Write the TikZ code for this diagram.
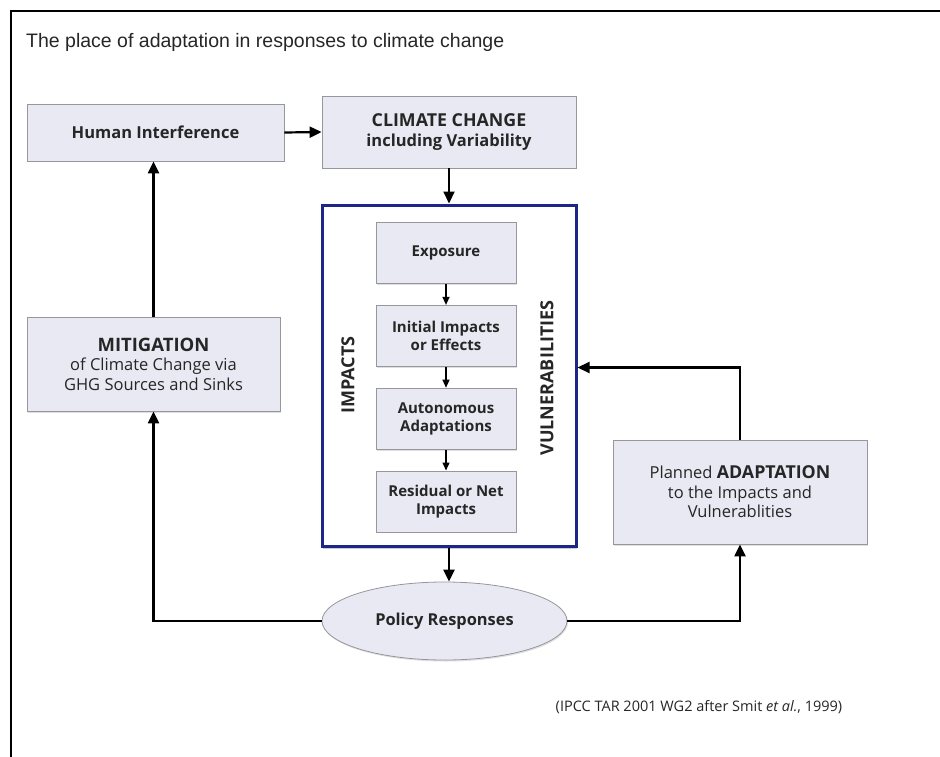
\documentclass[tikz,border=0pt]{standalone}
\usepackage{fontspec}
\setmainfont{Open Sans}
\newfontfamily\titlefont{Liberation Sans}
\usetikzlibrary{arrows.meta,shapes.geometric,shadows,positioning}
\definecolor{boxfill}{RGB}{232,233,242}
\definecolor{boxline}{RGB}{150,150,156}
\definecolor{vulnblue}{RGB}{28,38,135}
\definecolor{txt}{RGB}{38,38,38}

\begin{document}
\begin{tikzpicture}[x=1pt,y=-1pt,>={Triangle[length=12pt,width=11pt]},
                    node distance=21pt,font=\fontsize{16.5}{19.5}\selectfont]
  \tikzstyle{box}=[draw=boxline,line width=0.8pt,fill=boxfill,text=txt,align=center,inner sep=0pt,
                   drop shadow={shadow xshift=1pt,shadow yshift=-1.5pt,opacity=0.25}]
  \tikzstyle{inbox}=[box,minimum width=140pt,minimum height=61pt,font=\fontsize{15}{18}\selectfont\bfseries]
  \tikzstyle{flow}=[->,line width=2.2pt]
  \tikzstyle{inflow}=[-{Triangle[length=8pt,width=7pt]},line width=1.2pt]
  \tikzstyle{side}=[rotate=90,text=txt,font=\fontsize{18}{20}\selectfont\bfseries]

  \useasboundingbox (0,0) rectangle (940,757);
  \draw[line width=2pt] (940,11) -- (11,11) -- (11,757);

  \node[anchor=west,text=txt,inner sep=0pt,font=\titlefont\fontsize{19.5}{22}\selectfont] (title) at (26,42)
       {The place of adaptation in responses to climate change};

  % top row
  \node[box,minimum width=257pt,minimum height=57pt] (human) at (155.5,132.5)
       {\bfseries Human Interference};
  \node[box,minimum width=254pt,minimum height=72pt] (climate) at (449,132)
       {{\fontsize{17.8}{20}\selectfont\bfseries CLIMATE CHANGE}\\ \bfseries including Variability};

  % impacts and vulnerabilities
  \node[draw=vulnblue,line width=3pt,fill=white,minimum width=254pt,minimum height=341pt,
        drop shadow={shadow xshift=1pt,shadow yshift=-3pt,opacity=0.4}] (vuln) at (449,375.5) {};
  \node[inbox] (exposure) at (446,253) {Exposure};
  \node[inbox,below=of exposure] (initial) {Initial Impacts\\or Effects};
  \node[inbox,below=of initial] (autonomous) {Autonomous\\Adaptations};
  \node[inbox,below=of autonomous] (residual) {Residual or Net\\Impacts};
  \node[side] (impacts) at (348,375) {IMPACTS};
  \node[side] (vulnlabel) at (547,378) {VULNERABILITIES};

  % responses
  \node[box,minimum width=253pt,minimum height=94pt] (mitigation) at (153.5,364)
       {{\fontsize{18.5}{20}\selectfont\bfseries MITIGATION}\\of Climate Change via\\GHG Sources and Sinks};
  \node[box,minimum width=254pt,minimum height=104pt] (adaptation) at (740,492)
       {Planned {\fontsize{17.8}{20}\selectfont\bfseries ADAPTATION}\\to the Impacts and\\Vulnerablities};
  \node[box,ellipse,minimum width=245pt,minimum height=78pt] (policy) at (444.5,621)
       {\fontsize{16.4}{19}\selectfont\bfseries Policy Responses};

  \node[text=txt,font=\fontsize{14.5}{17}\selectfont] (source) at (699,707)
       {(IPCC TAR 2001 WG2 after Smit \textit{et al.}, 1999)};

  \draw[flow] (human.east) -- (climate.west);
  \draw[flow] (climate.south) -- (vuln.north);
  \draw[flow] (mitigation.north) -- (mitigation.north |- human.south);
  \draw[inflow] (exposure) -- (initial);
  \draw[inflow] (initial) -- (autonomous);
  \draw[inflow] (autonomous) -- (residual);
  \draw[flow] (vuln.south) -- (vuln.south |- policy.north);
  \draw[flow] (policy.west) -| (mitigation.south);
  \draw[flow] (policy.east) -| (adaptation.south);
  \draw[flow] (adaptation.north) |- ([yshift=8pt]vuln.east);
\end{tikzpicture}
\end{document}
